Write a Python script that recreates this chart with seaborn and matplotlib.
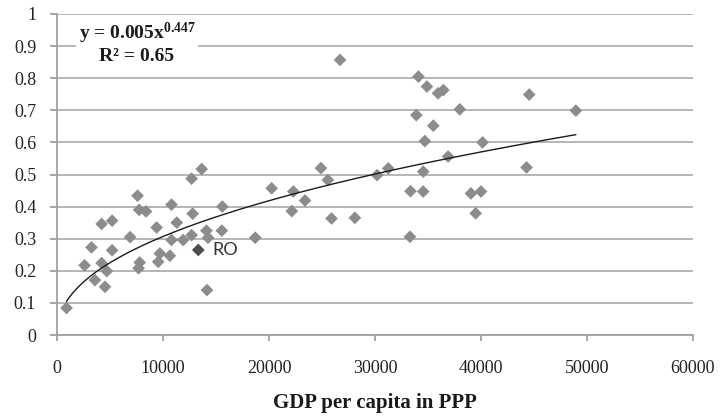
import numpy as np
import pandas as pd
import matplotlib
matplotlib.use('Agg')
import matplotlib.pyplot as plt
import seaborn as sns

# GDP per capita (PPP) and index value
gdp = [900, 2600, 3250, 3580, 4210, 4210, 4530, 4700, 5200, 5200,
       6900, 7600, 7750, 8400, 7800, 7700, 9400, 9700, 9550, 10650,
       10800, 11300, 10800, 11900, 12700, 12800, 12700, 13650, 14100, 14250,
       15550, 15600, 14150, 18700, 20250, 22150, 22300, 23400, 24900, 25550,
       25900, 26700, 28100, 30200, 31250, 33350, 33300, 33900, 34100, 34550,
       34550, 34700, 34900, 35500, 35950, 36450, 36900, 38000, 39050, 39500,
       40000, 40150, 44300, 44550, 48950]
index = [0.084, 0.217, 0.273, 0.171, 0.346, 0.224, 0.150, 0.199, 0.356, 0.264,
         0.305, 0.434, 0.390, 0.385, 0.226, 0.208, 0.335, 0.254, 0.228, 0.247,
         0.406, 0.350, 0.296, 0.296, 0.487, 0.378, 0.311, 0.517, 0.325, 0.303,
         0.325, 0.400, 0.140, 0.303, 0.457, 0.386, 0.447, 0.419, 0.520, 0.483,
         0.363, 0.857, 0.365, 0.498, 0.519, 0.448, 0.306, 0.685, 0.805, 0.509,
         0.447, 0.604, 0.774, 0.652, 0.753, 0.763, 0.556, 0.703, 0.441, 0.379,
         0.447, 0.600, 0.522, 0.749, 0.699]

ro_gdp = [13330]
ro_index = [0.265]
ro_label = 'RO'

# power trendline shown on the chart
fit_a = 0.005
fit_b = 0.447
r_squared = 0.65

x_ticks = [0, 10000, 20000, 30000, 40000, 50000, 60000]
x_tick_labels = ['0', '10000', '20000', '30000', '40000', '50000', '60000']
y_ticks = [0, 0.1, 0.2, 0.3, 0.4, 0.5, 0.6, 0.7, 0.8, 0.9, 1.0]
y_tick_labels = ['0', '0.1', '0.2', '0.3', '0.4', '0.5', '0.6', '0.7',
                 '0.8', '0.9', '1']

sns.set_style('white')
plt.rcParams['font.family'] = ['Liberation Serif', 'DejaVu Serif']
plt.rcParams['mathtext.fontset'] = 'custom'
plt.rcParams['mathtext.rm'] = 'Liberation Serif:bold'
plt.rcParams['mathtext.it'] = 'Liberation Serif:bold'
plt.rcParams['mathtext.bf'] = 'Liberation Serif:bold'

df = pd.DataFrame({'gdp': gdp, 'index': index})

fig = plt.figure(figsize=(7.2, 4.16), dpi=100)
ax = fig.add_axes([57 / 720, 81 / 416, 636 / 720, 321 / 416])

sns.scatterplot(data=df, x='gdp', y='index', marker='D', s=42,
                color='#8c8c8c', edgecolor='none', ax=ax, zorder=3)
sns.scatterplot(x=ro_gdp, y=ro_index, marker='D', s=42,
                color='#4d4d4d', edgecolor='none', ax=ax, zorder=3)

xs = np.linspace(min(gdp), max(gdp), 300)
sns.lineplot(x=xs, y=fit_a * xs ** fit_b, color='#1a1a1a', lw=1,
             ax=ax, zorder=4)

ax.annotate(ro_label, (ro_gdp[0], ro_index[0]), xytext=(10, 0),
            textcoords='offset points', va='center', ha='left',
            fontsize=13, family='Lato', color='#333333')

ax.text(7550, 0.91,
        'y = %gx$^{%g}$\nR\u00b2 = %g' % (fit_a, fit_b, r_squared),
        ha='center', va='center', multialignment='center',
        fontsize=14, fontweight='bold', color='#1a1a1a', zorder=5,
        bbox=dict(fc='white', ec='none', pad=2))

ax.set_xlim(0, 60000)
ax.set_ylim(0, 1)
ax.set_xticks(x_ticks)
ax.set_xticklabels(x_tick_labels)
ax.set_yticks(y_ticks)
ax.set_yticklabels(y_tick_labels)
ax.yaxis.grid(True, color='#b0b0b0', lw=1.3)
ax.xaxis.grid(False)
ax.set_axisbelow(True)

for side in ['top', 'right']:
    ax.spines[side].set_visible(False)
for side in ['left', 'bottom']:
    ax.spines[side].set_color('#a0a0a0')
    ax.spines[side].set_linewidth(1.3)

ax.tick_params(axis='y', left=True, length=5, width=1.3, color='#a0a0a0',
               pad=10, labelsize=13, labelcolor='#222222')
ax.tick_params(axis='x', bottom=True, length=4, width=1.3, color='#a0a0a0',
               pad=14, labelsize=13, labelcolor='#222222')
ax.set_xlabel('')
ax.set_ylabel('')

fig.text(375 / 720, 1 - 403 / 416, 'GDP per capita in PPP', ha='center',
         va='center', fontsize=15, fontweight='bold', color='#1a1a1a')

fig.savefig('out.png', dpi=100, facecolor='white')
